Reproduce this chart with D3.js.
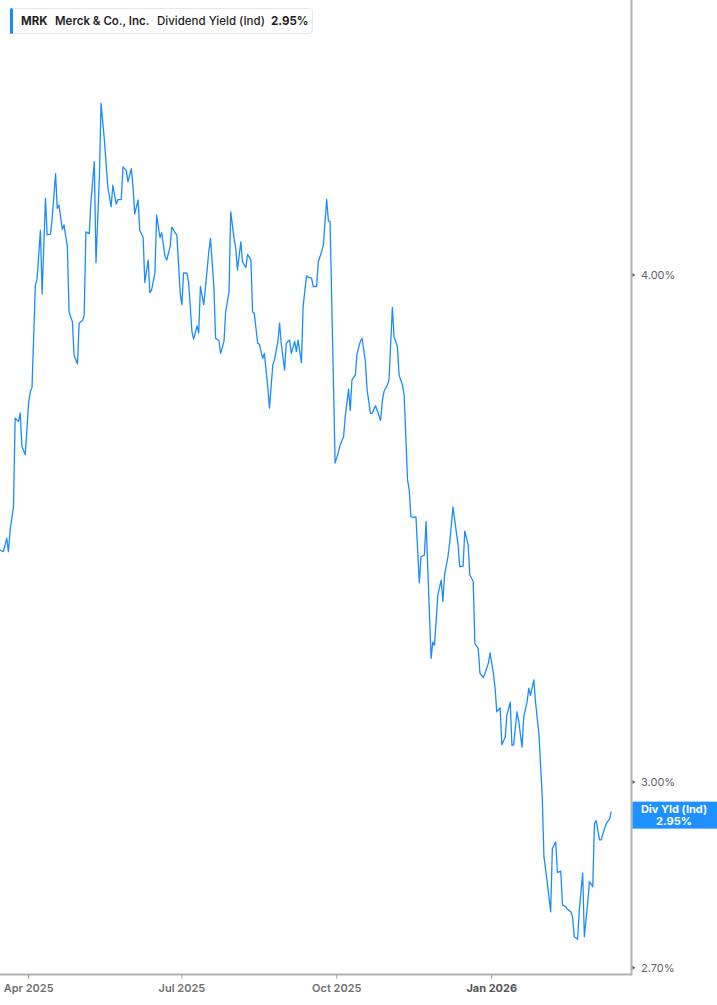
<!DOCTYPE html>
<html>
<head>
<meta charset="utf-8">
<script src="https://cdn.jsdelivr.net/npm/d3@7"></script>
<style>
  html, body { margin: 0; padding: 0; background: #ffffff; }
  svg { display: block; font-family: Inter, "Noto Sans", sans-serif; }
</style>
</head>
<body>
<svg id="chart" width="717" height="1005"></svg>
<script>
const ticker = "MRK";
const company = "Merck & Co., Inc.";
const metric = "Dividend Yield (Ind)";
const lastLabel = "2.95%";
const badgeTitle = "Div Yld (Ind)";

const dates = [
  "2025-03-15","2025-03-17","2025-03-19","2025-03-20","2025-03-21","2025-03-23","2025-03-24","2025-03-26","2025-03-27","2025-03-28","2025-03-30",
  "2025-04-01","2025-04-02","2025-04-03","2025-04-05","2025-04-06","2025-04-08","2025-04-09","2025-04-11","2025-04-12","2025-04-14","2025-04-15","2025-04-17","2025-04-18","2025-04-19","2025-04-21","2025-04-22","2025-04-24","2025-04-25","2025-04-27","2025-04-28","2025-04-30",
  "2025-05-01","2025-05-03","2025-05-04","2025-05-05","2025-05-07","2025-05-08","2025-05-10","2025-05-11","2025-05-13","2025-05-14","2025-05-16","2025-05-18","2025-05-20","2025-05-21","2025-05-23","2025-05-24","2025-05-26","2025-05-27","2025-05-29","2025-05-30",
  "2025-06-01","2025-06-02","2025-06-03","2025-06-05","2025-06-06","2025-06-08","2025-06-09","2025-06-11","2025-06-12","2025-06-13","2025-06-15","2025-06-16","2025-06-18","2025-06-19","2025-06-21","2025-06-22","2025-06-24","2025-06-25","2025-06-27","2025-06-28","2025-06-30",
  "2025-07-01","2025-07-02","2025-07-04","2025-07-05","2025-07-07","2025-07-08","2025-07-10","2025-07-11","2025-07-12","2025-07-14","2025-07-15","2025-07-17","2025-07-18","2025-07-20","2025-07-21","2025-07-23","2025-07-24","2025-07-26","2025-07-27","2025-07-29","2025-07-30",
  "2025-08-01","2025-08-02","2025-08-03","2025-08-05","2025-08-06","2025-08-08","2025-08-09","2025-08-11","2025-08-12","2025-08-13","2025-08-15","2025-08-16","2025-08-18","2025-08-19","2025-08-21","2025-08-22","2025-08-24","2025-08-25","2025-08-27","2025-08-28","2025-08-29","2025-08-31",
  "2025-09-01","2025-09-03","2025-09-04","2025-09-06","2025-09-07","2025-09-08","2025-09-10","2025-09-11","2025-09-13","2025-09-14","2025-09-16","2025-09-17","2025-09-19","2025-09-20","2025-09-22","2025-09-23","2025-09-25","2025-09-26","2025-09-27","2025-09-30",
  "2025-10-02","2025-10-03","2025-10-05","2025-10-06","2025-10-08","2025-10-09","2025-10-10","2025-10-12","2025-10-13","2025-10-15","2025-10-16","2025-10-18","2025-10-19","2025-10-21","2025-10-22","2025-10-24","2025-10-25","2025-10-27","2025-10-28","2025-10-29","2025-10-31",
  "2025-11-01","2025-11-03","2025-11-04","2025-11-06","2025-11-07","2025-11-09","2025-11-10","2025-11-12","2025-11-13","2025-11-14","2025-11-16","2025-11-17","2025-11-19","2025-11-20","2025-11-22","2025-11-23","2025-11-26","2025-11-27","2025-11-28","2025-11-30",
  "2025-12-02","2025-12-03","2025-12-04","2025-12-06","2025-12-07","2025-12-09","2025-12-10","2025-12-12","2025-12-13","2025-12-15","2025-12-16","2025-12-18","2025-12-19","2025-12-21","2025-12-22","2025-12-24","2025-12-25","2025-12-27","2025-12-28","2025-12-30","2025-12-31",
  "2026-01-02","2026-01-03","2026-01-04","2026-01-06","2026-01-07","2026-01-09","2026-01-10","2026-01-12","2026-01-13","2026-01-14","2026-01-16","2026-01-17","2026-01-19","2026-01-20","2026-01-22","2026-01-23","2026-01-24","2026-01-26","2026-01-27","2026-01-29","2026-01-31",
  "2026-02-01","2026-02-03","2026-02-05","2026-02-06","2026-02-08","2026-02-09","2026-02-11","2026-02-12","2026-02-14","2026-02-15","2026-02-17","2026-02-18","2026-02-19","2026-02-21","2026-02-22","2026-02-24","2026-02-25","2026-02-27","2026-02-28",
  "2026-03-02","2026-03-03","2026-03-04","2026-03-06","2026-03-07","2026-03-09","2026-03-10","2026-03-12","2026-03-13"
];

const yields = [
  3.422,3.419,3.445,3.419,3.461,3.507,3.688,3.681,3.699,3.629,3.612,
  3.720,3.744,3.752,3.977,3.990,4.103,3.957,4.178,4.092,4.094,4.131,4.237,4.154,4.162,4.105,4.115,4.065,3.917,3.895,3.822,3.803,
  3.892,3.898,3.910,4.099,4.095,4.170,4.266,4.028,4.225,4.409,4.318,4.205,4.158,4.209,4.164,4.175,4.175,4.253,4.244,4.217,
  4.249,4.205,4.141,4.174,4.103,4.086,3.983,4.034,3.960,3.966,4.004,4.138,4.086,4.097,4.042,4.034,4.065,4.110,4.097,4.092,3.959,
  3.933,4.005,4.004,3.983,3.873,3.857,3.886,3.871,3.974,3.933,3.972,4.053,4.084,3.974,3.859,3.854,3.826,3.852,3.917,3.962,4.146,
  4.084,4.061,4.011,4.076,4.030,4.017,4.047,4.034,3.917,3.914,3.848,3.846,3.815,3.826,3.754,3.709,3.801,3.812,3.852,3.892,3.848,3.790,
  3.848,3.855,3.826,3.852,3.830,3.855,3.806,3.929,3.998,3.995,3.993,3.974,3.974,4.030,4.053,4.069,4.175,4.125,4.123,3.595,
  3.618,3.632,3.649,3.691,3.749,3.704,3.769,3.779,3.825,3.852,3.859,3.808,3.747,3.698,3.698,3.714,3.704,3.683,3.723,3.744,3.758,
  3.769,3.927,3.862,3.841,3.779,3.758,3.735,3.561,3.541,3.487,3.486,3.487,3.359,3.409,3.412,3.478,3.218,3.248,3.242,3.336,
  3.364,3.324,3.374,3.409,3.435,3.507,3.481,3.432,3.390,3.391,3.459,3.432,3.374,3.362,3.245,3.236,3.191,3.183,3.191,3.209,3.228,
  3.191,3.164,3.122,3.129,3.064,3.077,3.116,3.139,3.063,3.064,3.122,3.106,3.060,3.113,3.140,3.164,3.151,3.179,3.139,3.084,2.975,
  2.876,2.833,2.787,2.889,2.900,2.850,2.852,2.798,2.795,2.791,2.787,2.779,2.748,2.744,2.790,2.849,2.748,2.801,2.835,
  2.827,2.930,2.935,2.903,2.903,2.922,2.930,2.938,2.950
];

const yTickValues = [4.00, 3.00, 2.70];
const xTickDates = ["2025-04-01", "2025-07-01", "2025-10-01", "2026-01-01"];
const xTickLabels = ["Apr 2025", "Jul 2025", "Oct 2025", "Jan 2026"];

const parse = d3.timeParse("%Y-%m-%d");
const data = dates.map((d, i) => ({ date: parse(d), value: yields[i] }));

const plotRight = 631.5;
const plotBottom = 974.5;

const x = d3.scaleTime()
  .domain([parse("2025-03-15"), parse("2026-03-25")])
  .range([0, plotRight]);

const y = d3.scaleLog()
  .domain([2.70, 4.00])
  .range([967.7, 275]);

const svg = d3.select("#chart");

svg.append("defs").append("clipPath").attr("id", "plotClip")
  .append("rect").attr("x", 0).attr("y", 0).attr("width", plotRight).attr("height", plotBottom);

// Line
const line = d3.line().x(d => x(d.date)).y(d => y(d.value));
svg.append("path")
  .datum(data)
  .attr("clip-path", "url(#plotClip)")
  .attr("fill", "none")
  .attr("stroke", "#1a8cff")
  .attr("stroke-width", 1.3)
  .attr("stroke-linejoin", "round")
  .attr("d", line);

// Axes lines
svg.append("line")
  .attr("x1", 0).attr("x2", plotRight)
  .attr("y1", plotBottom).attr("y2", plotBottom)
  .attr("stroke", "#b3b3b3").attr("stroke-width", 2);
svg.append("line")
  .attr("x1", plotRight).attr("x2", plotRight)
  .attr("y1", 0).attr("y2", plotBottom + 1)
  .attr("stroke", "#b3b3b3").attr("stroke-width", 2);

// Y ticks (right)
const yAxisG = svg.append("g");
yTickValues.forEach(v => {
  const yy = y(v);
  yAxisG.append("path")
    .attr("d", `M${plotRight + 1},${yy - 2} L${plotRight + 4},${yy} L${plotRight + 1},${yy + 2} Z`)
    .attr("fill", "#666");
  yAxisG.append("text")
    .attr("x", 641)
    .attr("y", yy)
    .attr("dy", "0.35em")
    .attr("font-size", 11)
    .attr("fill", "#5f6368")
    .text(d3.format(".2f")(v) + "%");
});

// X ticks (bottom)
const xAxisG = svg.append("g");
xTickDates.forEach((ds, i) => {
  const xx = x(parse(ds));
  const isYear = ds.endsWith("-01-01");
  xAxisG.append("line")
    .attr("x1", xx).attr("x2", xx)
    .attr("y1", plotBottom).attr("y2", plotBottom + 4)
    .attr("stroke", "#999").attr("stroke-width", 1);
  xAxisG.append("text")
    .attr("x", xx)
    .attr("y", 992)
    .attr("text-anchor", "middle")
    .attr("font-size", 11)
    .attr("font-weight", isYear ? 700 : 600)
    .attr("fill", isYear ? "#555" : "#707070")
    .text(xTickLabels[i]);
});

// Last value badge
const lastV = yields[yields.length - 1];
const by = y(lastV);
const badge = svg.append("g");
badge.append("rect")
  .attr("x", plotRight + 1).attr("y", by - 10)
  .attr("width", 717 - plotRight - 1).attr("height", 27)
  .attr("fill", "#1e90ff");
badge.append("text")
  .attr("x", 674).attr("y", by + 1)
  .attr("text-anchor", "middle")
  .attr("font-size", 11).attr("font-weight", 700).attr("fill", "#fff")
  .text(badgeTitle);
badge.append("text")
  .attr("x", 674).attr("y", by + 13)
  .attr("text-anchor", "middle")
  .attr("font-size", 11).attr("font-weight", 700).attr("fill", "#fff")
  .text(lastLabel);

// Legend
const legend = svg.append("g");
legend.append("rect")
  .attr("x", 10.5).attr("y", 8.5).attr("width", 302).attr("height", 25).attr("rx", 3)
  .attr("fill", "#fff").attr("stroke", "#e8e8e8");
legend.append("rect")
  .attr("x", 10).attr("y", 8).attr("width", 3).attr("height", 26).attr("rx", 1.5)
  .attr("fill", "#1a8cff");
const lt = legend.append("text").attr("y", 25).attr("font-size", 11.5).attr("fill", "#1f1f1f");
lt.append("tspan").attr("x", 21).attr("font-weight", 700).text(ticker);
lt.append("tspan").attr("x", 55).attr("font-weight", 600).text(company);
lt.append("tspan").attr("x", 157).attr("font-weight", 500).text(metric);
lt.append("tspan").attr("x", 271).attr("font-weight", 700).text(lastLabel);
</script>
</body>
</html>
